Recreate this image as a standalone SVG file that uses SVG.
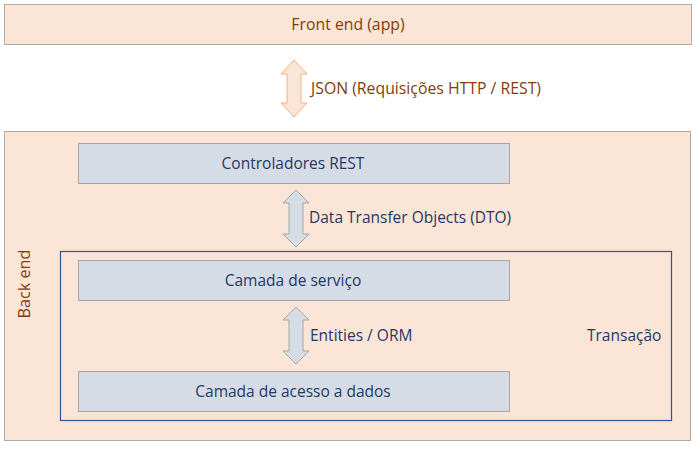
<svg xmlns="http://www.w3.org/2000/svg" width="700" height="450" viewBox="0 0 700 450">
<style>
.peach{fill:#FBE5D6;stroke:#AEAAAA;stroke-width:1}
.layer{fill:#D6DCE5;stroke:#A5A5A5;stroke-width:1}
.txn{fill:none;stroke:#2F5597;stroke-width:1.2}
.brown{font-family:"Open Sans","Liberation Sans",sans-serif;font-size:15.8px;fill:#843C0C}
.blue{font-family:"Open Sans","Liberation Sans",sans-serif;font-size:15.5px;fill:#1F3864}
.arrO{fill:#FBE5D6;stroke:#F4B183;stroke-width:1}
.arrB{fill:#D6DCE5;stroke:#A5A5A5;stroke-width:1}
</style>
<rect width="700" height="450" fill="#FFFFFF"/>
<g id="frontend">
<rect class="peach" x="4.5" y="4.5" width="687" height="40"/>
<text class="brown" x="348" y="30" text-anchor="middle">Front end (app)</text>
</g>
<g id="backend">
<rect class="peach" x="4.5" y="131.5" width="686" height="309"/>
<text class="brown" style="font-size:16.2px" transform="translate(30,284) rotate(-90)" text-anchor="middle">Back end</text>
</g>
<g id="transacao">
<rect class="txn" x="60.5" y="251.5" width="611" height="169"/>
<text class="blue" x="587" y="341">Transação</text>
</g>
<g id="controladores">
<rect class="layer" x="78.5" y="143.5" width="431" height="40"/>
<text class="blue" x="293" y="169" text-anchor="middle">Controladores REST</text>
</g>
<g id="servico">
<rect class="layer" x="78.5" y="260.5" width="431" height="40"/>
<text class="blue" x="293" y="286" text-anchor="middle">Camada de serviço</text>
</g>
<g id="acesso">
<rect class="layer" x="78.5" y="371.5" width="431" height="40"/>
<text class="blue" x="293" y="397" text-anchor="middle">Camada de acesso a dados</text>
</g>
<g id="connectors">
<path class="arrO" d="M294,60 L307,74 L301,74 L301,103 L307,103 L294,117 L281,103 L287,103 L287,74 L281,74 Z"/>
<text class="brown" x="311" y="94">JSON (Requisições HTTP / REST)</text>
<path class="arrB" d="M296,190 L309,203 L303,203 L303,234 L309,234 L296,247 L283,234 L289,234 L289,203 L283,203 Z"/>
<text class="blue" x="309" y="223">Data Transfer Objects (DTO)</text>
<path class="arrB" d="M296,307 L309,320 L303,320 L303,351 L309,351 L296,364 L283,351 L289,351 L289,320 L283,320 Z"/>
<text class="blue" x="310" y="341">Entities / ORM</text>
</g>
</svg>
